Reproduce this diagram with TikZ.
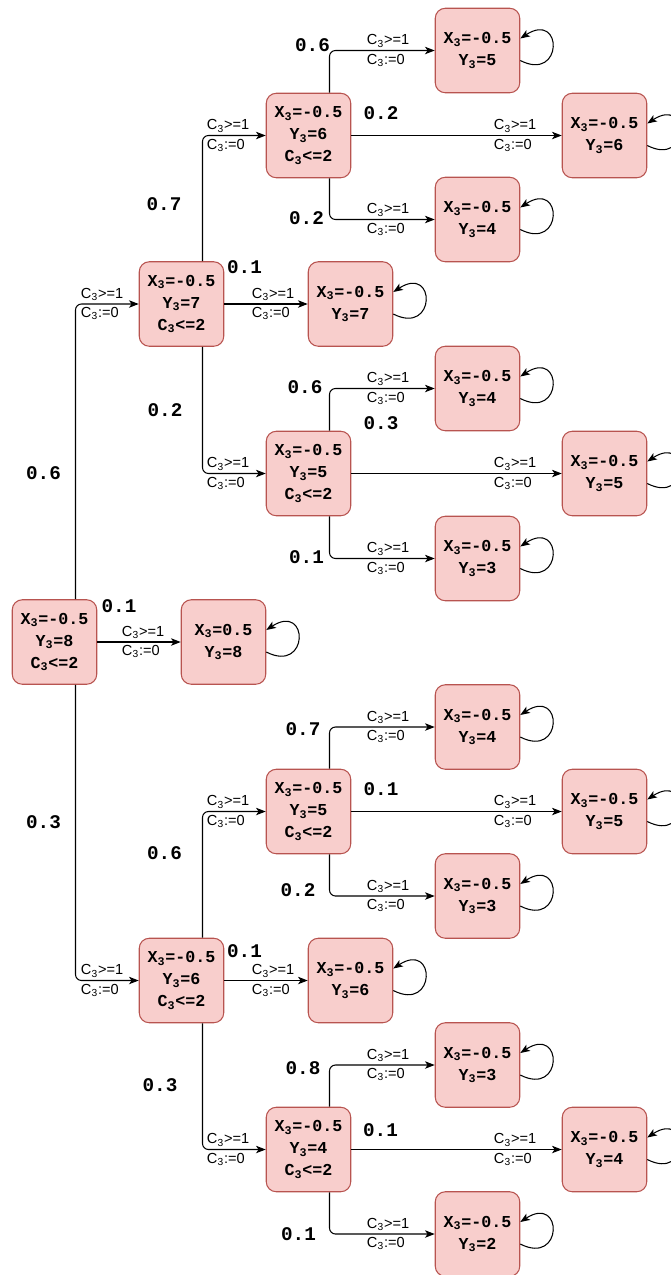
\documentclass[tikz,border=0pt]{standalone}
\usepackage{fontspec}
\setmainfont{Liberation Sans}
\newfontfamily\codefont{Liberation Mono}
\usetikzlibrary{arrows.meta}

\definecolor{locfill}{HTML}{F8CECC}
\definecolor{locline}{HTML}{B85450}

\newcommand{\Xt}{X\textsubscript{3}}
\newcommand{\Yt}{Y\textsubscript{3}}
\newcommand{\Ct}{C\textsubscript{3}}
\newcommand{\grd}{\Ct>=1\\\Ct:=0}

\tikzset{
  location/.style={draw=locline,fill=locfill,rounded corners=0.2cm,line width=0.6pt,
    minimum width=1.69cm,minimum height=1.69cm,inner sep=0pt,align=center,
    font=\codefont\bfseries\fontsize{9.5}{12.5}\selectfont},
  trans/.style={draw,line width=0.6pt,rounded corners=0.12cm,
    -{Stealth[length=5.5pt,width=4.2pt,inset=1.4pt]}},
  guard/.style={font=\fontsize{8.3}{11}\selectfont,align=left,inner sep=0pt,pos=1,left=#1},
  guard/.default=0.5cm,
  prob/.style={font=\codefont\bfseries\fontsize{11}{13}\selectfont,inner sep=0pt},
}

\begin{document}
\begin{tikzpicture}[x=0.02cm,y=-0.02cm]
  % 1 unit = 1 px of the 670x1275 sheet, y grows downwards
  \useasboundingbox (0,0) rectangle (670,1275);
  \def\cA{54.5}\def\cB{181.5}\def\cC{223.5}\def\cD{308.5}
  \def\cE{350.5}\def\cF{477.5}\def\cG{604.5}
  \def\off{0.42cm}

  % initial location
  \node[location] (s0) at (\cA,642) {\Xt=-0.5\\\Yt=8\\\Ct<=2};
  \node[location] (s0r) at (\cC,642) {\Xt=0.5\\\Yt=8};

  % upper branch: Y=7
  \node[location] (u) at (\cB,304) {\Xt=-0.5\\\Yt=7\\\Ct<=2};
  \node[location] (ur) at (\cE,304) {\Xt=-0.5\\\Yt=7};
  % Y=6
  \node[location] (uu) at (\cD,135.5) {\Xt=-0.5\\\Yt=6\\\Ct<=2};
  \node[location] (uuu) at (\cF,50.5) {\Xt=-0.5\\\Yt=5};
  \node[location] (uur) at (\cG,135.5) {\Xt=-0.5\\\Yt=6};
  \node[location] (uud) at (\cF,219.5) {\Xt=-0.5\\\Yt=4};
  % Y=5
  \node[location] (ud) at (\cD,473.5) {\Xt=-0.5\\\Yt=5\\\Ct<=2};
  \node[location] (udu) at (\cF,388.5) {\Xt=-0.5\\\Yt=4};
  \node[location] (udr) at (\cG,473.5) {\Xt=-0.5\\\Yt=5};
  \node[location] (udd) at (\cF,558.5) {\Xt=-0.5\\\Yt=3};

  % lower branch: Y=6
  \node[location] (d) at (\cB,980.5) {\Xt=-0.5\\\Yt=6\\\Ct<=2};
  \node[location] (dr) at (\cE,980.5) {\Xt=-0.5\\\Yt=6};
  % Y=5
  \node[location] (du) at (\cD,811.5) {\Xt=-0.5\\\Yt=5\\\Ct<=2};
  \node[location] (duu) at (\cF,727) {\Xt=-0.5\\\Yt=4};
  \node[location] (dur) at (\cG,811.5) {\Xt=-0.5\\\Yt=5};
  \node[location] (dud) at (\cF,896) {\Xt=-0.5\\\Yt=3};
  % Y=4
  \node[location] (dd) at (\cD,1149.5) {\Xt=-0.5\\\Yt=4\\\Ct<=2};
  \node[location] (ddu) at (\cF,1065) {\Xt=-0.5\\\Yt=3};
  \node[location] (ddr) at (\cG,1149.5) {\Xt=-0.5\\\Yt=4};
  \node[location] (ddd) at (\cF,1234) {\Xt=-0.5\\\Yt=2};

  % transitions out of the initial location
  \draw[trans] ([xshift=\off]s0.north) |- (u.west) node[guard=0.3cm]{\grd};
  \draw[trans] (s0.east) -- (s0r.west) node[guard=0.32cm]{\grd};
  \draw[trans] ([xshift=\off]s0.south) |- (d.west) node[guard=0.3cm]{\grd};

  % out of Y=7
  \draw[trans] ([xshift=\off]u.north) |- (uu.west) node[guard=0.32cm]{\grd};
  \draw[trans] (u.east) -- (ur.west) node[guard=0.26cm]{\grd};
  \draw[trans] ([xshift=\off]u.south) |- (ud.west) node[guard=0.32cm]{\grd};
  % out of Y=6 (upper)
  \draw[trans] ([xshift=\off]uu.north) |- (uuu.west) node[guard]{\grd};
  \draw[trans] (uu.east) -- (uur.west) node[guard]{\grd};
  \draw[trans] ([xshift=\off]uu.south) |- (uud.west) node[guard]{\grd};
  % out of Y=5 (upper)
  \draw[trans] ([xshift=\off]ud.north) |- (udu.west) node[guard]{\grd};
  \draw[trans] (ud.east) -- (udr.west) node[guard]{\grd};
  \draw[trans] ([xshift=\off]ud.south) |- (udd.west) node[guard]{\grd};

  % out of Y=6 (lower)
  \draw[trans] ([xshift=\off]d.north) |- (du.west) node[guard=0.32cm]{\grd};
  \draw[trans] (d.east) -- (dr.west) node[guard=0.26cm]{\grd};
  \draw[trans] ([xshift=\off]d.south) |- (dd.west) node[guard=0.32cm]{\grd};
  % out of Y=5 (lower)
  \draw[trans] ([xshift=\off]du.north) |- (duu.west) node[guard]{\grd};
  \draw[trans] (du.east) -- (dur.west) node[guard]{\grd};
  \draw[trans] ([xshift=\off]du.south) |- (dud.west) node[guard]{\grd};
  % out of Y=4
  \draw[trans] ([xshift=\off]dd.north) |- (ddu.west) node[guard]{\grd};
  \draw[trans] (dd.east) -- (ddr.west) node[guard]{\grd};
  \draw[trans] ([xshift=\off]dd.south) |- (ddd.west) node[guard]{\grd};

  % self loops on the final locations
  \foreach \t in {s0r,ur,uuu,uur,uud,udu,udr,udd,dr,duu,dur,dud,ddu,ddr,ddd}
    \draw[trans] ([yshift=-0.2cm]\t.east) .. controls +(43,22) and +(43,-28) .. ([yshift=0.24cm]\t.east);

  % probabilities
  \node[prob] (p0u) at (43.5,473) {0.6};
  \node[prob] (p0r) at (119,605.7) {0.1};
  \node[prob] (p0d) at (43.5,822) {0.3};
  \node[prob] (puu) at (164,204) {0.7};
  \node[prob] (pur) at (244.5,267.5) {0.1};
  \node[prob] (pud) at (165,410) {0.2};
  \node[prob] (puuu) at (312.5,45.5) {0.6};
  \node[prob] (puur) at (381,113) {0.2};
  \node[prob] (puud) at (306.5,218) {0.2};
  \node[prob] (pudu) at (305,387) {0.6};
  \node[prob] (pudr) at (381,423) {0.3};
  \node[prob] (pudd) at (306.5,557) {0.1};
  \node[prob] (pdu) at (164.5,853) {0.6};
  \node[prob] (pdr) at (244.5,951) {0.1};
  \node[prob] (pdd) at (160,1085) {0.3};
  \node[prob] (pduu) at (303,729) {0.7};
  \node[prob] (pdur) at (381,789) {0.1};
  \node[prob] (pdud) at (298,890) {0.2};
  \node[prob] (pddu) at (303,1068) {0.8};
  \node[prob] (pddr) at (380.5,1130) {0.1};
  \node[prob] (pddd) at (298.5,1234) {0.1};
\end{tikzpicture}
\end{document}
